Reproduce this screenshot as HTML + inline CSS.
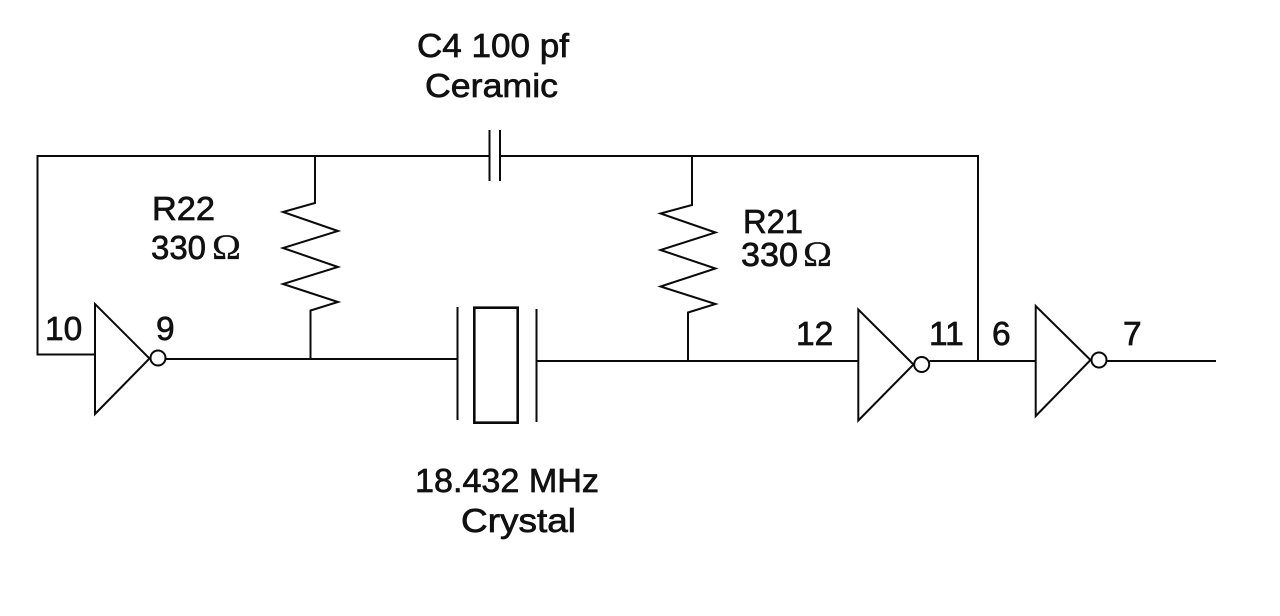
<!DOCTYPE html>
<html>
<head>
<meta charset="utf-8">
<style>
html,body{margin:0;padding:0;background:#fff;width:1280px;height:616px;overflow:hidden}
svg{display:block}
text{font-family:"Liberation Sans",sans-serif;font-size:33.5px;fill:#111;stroke:#111;stroke-width:.7px}
.o{font-family:"Liberation Serif",serif;font-size:36px;stroke-width:.3px}
.w{fill:none;stroke:#0a0a0a;stroke-width:2}
.b{fill:none;stroke:#0a0a0a;stroke-width:2.6}
</style>
</head>
<body>
<svg width="1280" height="616" viewBox="0 0 1280 616" xmlns="http://www.w3.org/2000/svg">
<path class="w" d="M95 354.5H37.5V156H489.5M500 156H978V361"/>
<path class="w" d="M489.5 130V181M500 130V181"/>
<path class="w" d="M315 156V203L283 212L338 231L283 248L338 267L283 284L338 302L310.500 310.500V359"/>
<path class="w" d="M692 156V205L660.500 213.500L715.500 232.500L660.500 250L715.500 268.500L660.500 286.500L715.500 304L688 312.500V361"/>
<path class="w" d="M166 359H457.500M457.500 307V420M536.500 309V422M536.500 361H858"/>
<path class="b" d="M474.300 307.700H517.700V422.700H474.300Z"/>
<path class="w" d="M95 304V414L149.500 358.500ZM858.300 309.500V420.500L913.500 364.500ZM1035.700 306V416L1090.500 360Z"/>
<circle class="w" cx="158" cy="358" r="7.5"/>
<circle class="w" cx="921.700" cy="364.500" r="7.500"/>
<circle class="w" cx="1099" cy="360" r="7.500"/>
<path class="w" d="M929.500 361H1035.700M1106.500 361H1216"/>
<text x="417" y="57" textLength="152" lengthAdjust="spacingAndGlyphs">C4 100 pf</text>
<text x="425" y="97" textLength="133" lengthAdjust="spacingAndGlyphs">Ceramic</text>
<text x="152" y="220" textLength="63" lengthAdjust="spacingAndGlyphs">R22</text>
<text x="151" y="259" textLength="55" lengthAdjust="spacingAndGlyphs">330</text>
<text class="o" x="212" y="259" textLength="29" lengthAdjust="spacingAndGlyphs">Ω</text>
<text x="743" y="233" textLength="60" lengthAdjust="spacingAndGlyphs">R21</text>
<text x="741" y="266" textLength="57" lengthAdjust="spacingAndGlyphs">330</text>
<text class="o" x="803" y="266" textLength="29" lengthAdjust="spacingAndGlyphs">Ω</text>
<text x="45" y="340">10</text>
<text x="156" y="340">9</text>
<text x="796" y="345">12</text>
<text x="929" y="345">11</text>
<text x="992" y="345">6</text>
<text x="1123" y="345">7</text>
<text x="415" y="492" textLength="184" lengthAdjust="spacingAndGlyphs">18.432 MHz</text>
<text x="461" y="532" textLength="115" lengthAdjust="spacingAndGlyphs">Crystal</text>
</svg>
</body>
</html>
